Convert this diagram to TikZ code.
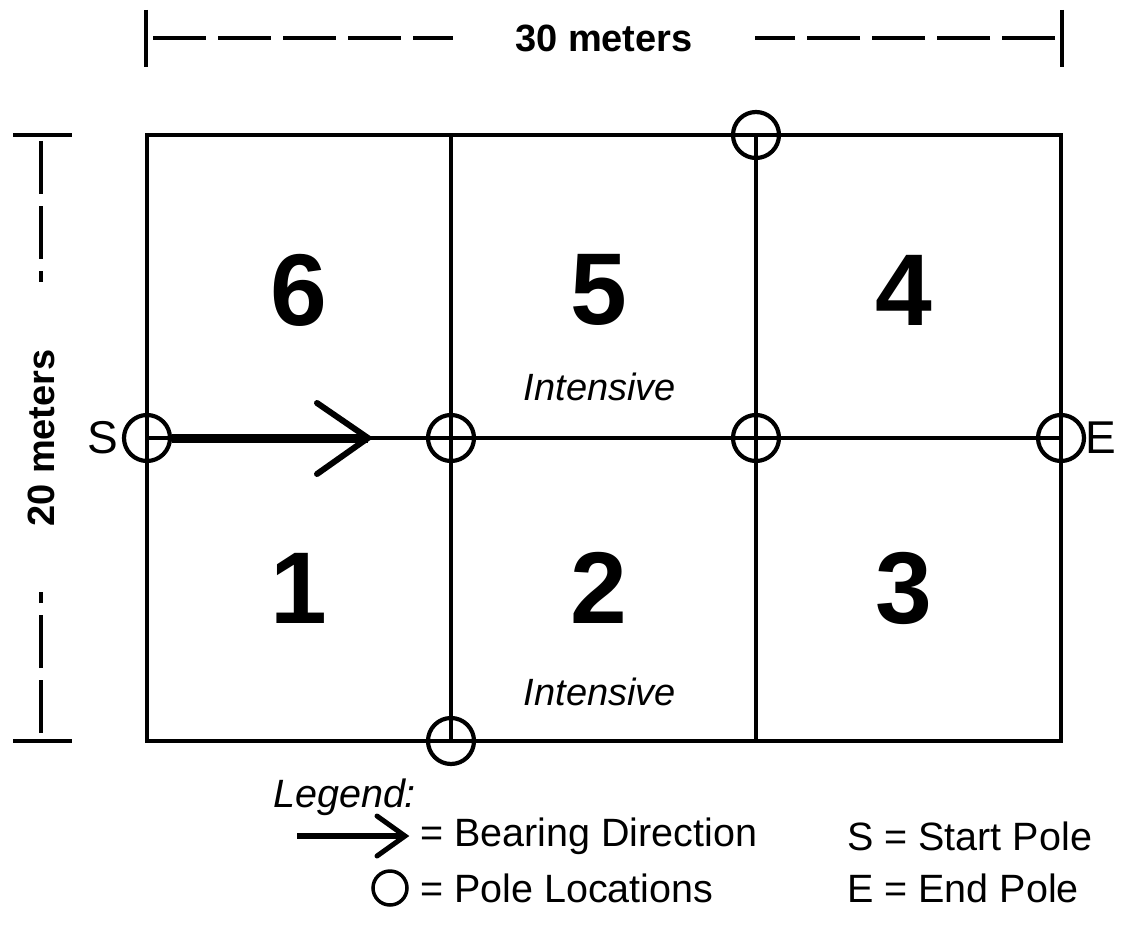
\documentclass[tikz,border=0pt]{standalone}
\usepackage{fontspec}
\setmainfont{Liberation Sans}
\begin{document}
\begin{tikzpicture}[x=1pt,y=-1pt,
  gridline/.style={line width=3.5pt},
  pole/.style={circle,draw,line width=4.2pt,minimum size=46pt,inner sep=0pt},
  plotnum/.style={inner sep=0pt,font=\fontsize{102}{102}\selectfont\bfseries},
  note/.style={inner sep=0pt,font=\fontsize{38}{38}\selectfont\itshape},
  dimtext/.style={inner sep=0pt,font=\fontsize{38}{38}\selectfont\bfseries},
  endlabel/.style={inner sep=0pt,font=\fontsize{46}{46}\selectfont},
  legtext/.style={inner sep=0pt,anchor=west,font=\fontsize{39.5}{39.5}\selectfont},
  dimline/.style={line width=4pt,dash pattern=on 53pt off 12pt},
  tick/.style={line width=3.5pt},
  chevron/.style={line width=6pt,line cap=round,line join=miter}]
\useasboundingbox (0,0) rectangle (1126,936);

% grid corners and interior points
\coordinate (tl) at (147,135);
\coordinate (br) at (1061,741);
\coordinate (t1) at (451,135);
\coordinate (b1) at (451,741);
\coordinate (t2) at (756,135);
\coordinate (b2) at (756,741);

% plot outline and dividers
\draw[gridline] (tl) rectangle (br);
\draw[gridline] (t1) -- (b1);
\draw[gridline] (t2) -- (b2);

% pole locations
\node[pole] (S) at (147,438) {};
\node[pole] (P1) at (451,438) {};
\node[pole] (P2) at (756,438) {};
\node[pole] (E) at (1061,438) {};
\node[pole] (PT) at (t2) {};
\node[pole] (PB) at (b1) {};
\draw[gridline] (S.center) -- (E.center);

% bearing direction
\coordinate (tip) at (368,438);
\draw[line width=9pt] (S.east) -- (tip);
\draw[chevron] (317,403) -- (tip) -- (317,474);

\node[endlabel,anchor=east] (Slab) at (118,438) {S};
\node[endlabel,anchor=west] (Elab) at (1085,438) {E};

% subplot numbers
\node[plotnum] (n6) at (299,290) {6};
\node[plotnum] (n5) at (599,290) {5};
\node[plotnum] (n4) at (904,290) {4};
\node[plotnum] (n1) at (299,588) {1};
\node[plotnum] (n2) at (599,588) {2};
\node[plotnum] (n3) at (904,588) {3};
\node[note] (i5) at (600,387) {Intensive};
\node[note] (i2) at (600,692) {Intensive};

% width dimension
\coordinate (wlt) at (146,10);
\coordinate (wlb) at (146,67);
\coordinate (wrt) at (1062,10);
\coordinate (wrb) at (1062,67);
\draw[tick] (wlt) -- (wlb);
\draw[tick] (wrt) -- (wrb);
\node[dimtext] (wlab) at (604,38) {30 meters};
\draw[dimline] (153,38) -- (453,38);
\draw[dimline] (1055,38) -- (755,38);

% height dimension
\coordinate (htl) at (13,135);
\coordinate (htr) at (72,135);
\coordinate (hbl) at (13,741);
\coordinate (hbr) at (72,741);
\draw[tick] (htl) -- (htr);
\draw[tick] (hbl) -- (hbr);
\node[dimtext,rotate=90] (hlab) at (41,438) {20 meters};
\draw[dimline] (41,141) -- (41,282);
\draw[dimline] (41,733) -- (41,592);

% legend
\node[inner sep=0pt,anchor=west,font=\fontsize{39.5}{39.5}\selectfont\itshape] (leg) at (273,797) {Legend:};
\coordinate (la0) at (297,836);
\coordinate (la1) at (405,836);
\draw[line width=6pt] (la0) -- (la1);
\draw[line width=5pt,line cap=round,line join=miter] (377,816) -- (la1) -- (377,856);
\node[legtext] (l1) at (420,836) {= Bearing Direction};
\node[legtext] (l2) at (847,836) {S = Start Pole};
\node[circle,draw,line width=3.5pt,minimum size=34pt,inner sep=0pt] (lc) at (390,888) {};
\node[legtext] (l3) at (420,888) {= Pole Locations};
\node[legtext] (l4) at (847,888) {E = End Pole};
\end{tikzpicture}
\end{document}
